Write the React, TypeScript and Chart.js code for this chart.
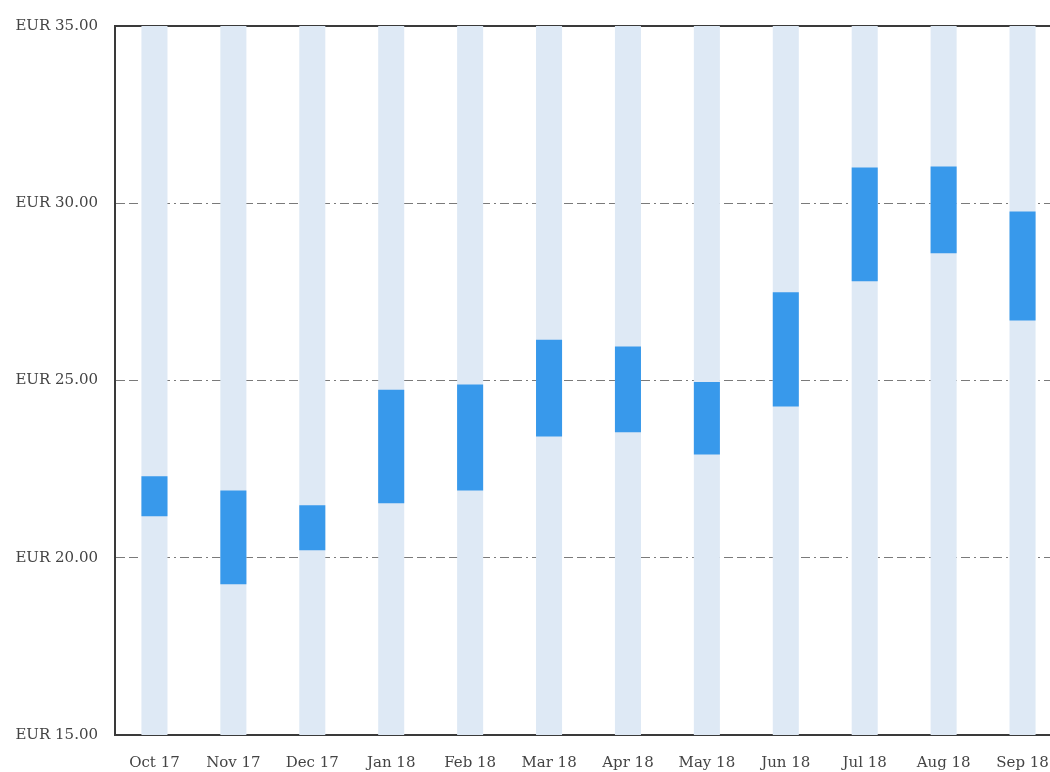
import React, { useEffect, useRef } from "react";
import { Chart, registerables } from "chart.js";

Chart.register(...registerables);

const months = ["Oct 17", "Nov 17", "Dec 17", "Jan 18", "Feb 18", "Mar 18", "Apr 18", "May 18", "Jun 18", "Jul 18", "Aug 18", "Sep 18"];
const lows = [21.17, 19.25, 20.21, 21.54, 21.9, 23.42, 23.54, 22.91, 24.27, 27.8, 28.59, 26.69];
const highs = [22.3, 21.9, 21.48, 24.74, 24.89, 26.15, 25.96, 24.96, 27.49, 31.01, 31.04, 29.77];
const axisMin = 15;
const axisMax = 35;
const yTicks = [15, 20, 25, 30, 35];

const FONT = { family: "'DejaVu Serif', serif", size: 15 };

export default function App() {
  const ref = useRef<HTMLCanvasElement | null>(null);

  useEffect(() => {
    document.body.style.margin = "0";
    const canvas = ref.current;
    if (!canvas) return;
    const chart = new Chart(canvas, {
      type: "bar",
      data: {
        labels: months,
        datasets: [
          {
            label: "range",
            data: lows.map((l, i) => [l, highs[i]]),
            backgroundColor: "#3899eb",
            borderWidth: 0,
            grouped: false,
            order: 1,
            categoryPercentage: 1,
            barPercentage: 0.33,
          } as any,
          {
            label: "background",
            data: months.map(() => [axisMin, axisMax]),
            backgroundColor: "#dee9f5",
            borderWidth: 0,
            grouped: false,
            order: 2,
            categoryPercentage: 1,
            barPercentage: 0.33,
          } as any,
        ],
      },
      options: {
        responsive: false,
        animation: false,
        layout: { padding: { top: 25, right: 8, left: 0, bottom: 0 } },
        plugins: { legend: { display: false }, tooltip: { enabled: false } },
        scales: {
          x: {
            position: "bottom",
            grid: { display: false, drawTicks: false },
            border: { display: true, color: "#3a3a3a", width: 2 },
            ticks: { color: "#444", font: FONT, padding: 19, maxRotation: 0, autoSkip: false },
            afterFit: (s: any) => {
              s.height = 37;
            },
          } as any,
          xTop: {
            type: "category",
            labels: months,
            position: "top",
            grid: { display: false, drawTicks: false },
            border: { display: true, color: "#3a3a3a", width: 2 },
            ticks: { display: false },
            afterFit: (s: any) => {
              s.height = 0;
            },
          } as any,
          y: {
            min: axisMin,
            max: axisMax,
            afterBuildTicks: (s: any) => {
              s.ticks = yTicks.map((v) => ({ value: v }));
            },
            afterFit: (s: any) => {
              s.width = 115;
            },
            grid: {
              drawTicks: false,
              color: (ctx: any) => {
                const v = ctx.tick && ctx.tick.value;
                return v === axisMin || v === axisMax ? "rgba(0,0,0,0)" : "#7a7a7a";
              },
              lineWidth: 1,
            },
            border: { display: true, color: "#3a3a3a", width: 2, dash: [9, 4, 9, 4, 2, 4] },
            ticks: {
              color: "#444",
              font: FONT,
              padding: 17,
              callback: (v: any) => "EUR " + Number(v).toFixed(2),
            },
          },
        },
      },
    });
    return () => chart.destroy();
  }, []);

  return (
    <div style={{ width: 1050, height: 772, overflow: "hidden", position: "relative" }}>
      <canvas ref={ref} width={1070} height={772} style={{ width: 1070, height: 772, display: "block" }} />
    </div>
  );
}
